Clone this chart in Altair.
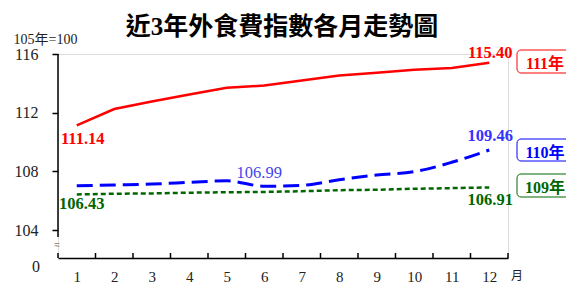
import altair as alt
import pandas as pd

months = list(range(1, 13))
y109 = [106.43, 106.48, 106.50, 106.55, 106.58, 106.60, 106.65, 106.72, 106.75, 106.82, 106.86, 106.91]
y110 = [107.02, 107.08, 107.14, 107.25, 107.36, 106.99, 107.05, 107.43, 107.76, 107.98, 108.62, 109.46]
y111 = [111.14, 112.25, 112.77, 113.24, 113.70, 113.85, 114.19, 114.53, 114.73, 114.92, 115.05, 115.40]
series = ["109年", "110年", "111年"]
colors = ["#006600", "#0000ff", "#ff0000"]
y_ticks = [104, 108, 112, 116]

FONT = "Liberation Serif, Times New Roman, Noto Sans CJK TC, serif"
W, H = 450, 204
YMIN, YMAX = 102.1, 116

xs = alt.Scale(domain=[0.5, 12.5], nice=False, zero=False)
ys = alt.Scale(domain=[YMIN, YMAX], nice=False, zero=False)

df = pd.DataFrame({
    "month": months * 3,
    "value": y109 + y110 + y111,
    "series": [series[0]] * 12 + [series[1]] * 12 + [series[2]] * 12,
})

X = alt.X("month:Q", scale=xs, axis=alt.Axis(
    values=months, ticks=False, grid=False, title=None, labelFont=FONT,
    labelFontSize=15, labelColor="#222", labelPadding=11, labelFlush=False,
    domainColor="#000", domainWidth=1.5, labelAngle=0))
Y = alt.Y("value:Q", scale=ys, axis=alt.Axis(
    values=y_ticks, domain=False, grid=False, tickSize=6, tickWidth=1.5,
    tickColor="#000", labelFont=FONT, labelFontSize=16, labelColor="#222",
    labelPadding=14, title="105年=100", titleAngle=0, titleX=-45, titleY=-15,
    titleAlign="left", titleBaseline="middle", titleFont=FONT,
    titleFontSize=14, titleFontWeight="normal", titleColor="#222"))

base = alt.Chart(df)
line_styles = {
    series[0]: dict(strokeDash=[5, 3], strokeWidth=2.5, interpolate="linear"),
    series[1]: dict(strokeDash=[16, 7], strokeWidth=3, interpolate="monotone"),
    series[2]: dict(strokeWidth=2.5, interpolate="linear"),
}
layers = []
for s, c in zip(series, colors):
    layers.append(base.transform_filter(alt.datum.series == s).mark_line(
        color=c, **line_styles[s]).encode(x=X, y=Y))

# y axis line with break
axis_df = pd.DataFrame({"a": [0]})
ax = alt.Chart(axis_df)
layers.append(ax.mark_rule(color="#000", strokeWidth=1.5).encode(
    x=alt.value(0), y=alt.value(0), y2=alt.value(183)))
layers.append(ax.mark_rule(color="#000", strokeWidth=1.5).encode(
    x=alt.value(0), y=alt.value(199), y2=alt.value(H)))
layers.append(ax.mark_text(text="≈", fontSize=10, color="#777").encode(
    x=alt.value(-1), y=alt.value(191)))
layers.append(ax.mark_text(text="0", font=FONT, fontSize=16, color="#222",
                           align="right", baseline="middle").encode(
    x=alt.value(-18), y=alt.value(213)))
layers.append(ax.mark_text(text="月", font=FONT, fontSize=12, color="#222",
                           baseline="middle").encode(
    x=alt.value(459), y=alt.value(222)))
layers.append(ax.mark_text(text="近3年外食費指數各月走勢圖", font=FONT, fontSize=25,
                           fontWeight="bold", color="#000", baseline="middle").encode(
    x=alt.value(224), y=alt.value(-27)))

# x ticks pointing up at month boundaries
tick_df = pd.DataFrame({"b": [m + 0.5 for m in months]})
layers.append(alt.Chart(tick_df).mark_rule(color="#000", strokeWidth=1.5).encode(
    x=alt.X("b:Q", scale=xs), y=alt.value(H), y2=alt.value(H - 5)))

# value labels
labels = [
    (series[2], 1, "111.14", "#ff0000", "bold", 6, 14),
    (series[2], 12, "115.40", "#ff0000", "bold", 1, -10),
    (series[1], 12, "109.46", "#3333ff", "bold", 1, -14),
    (series[1], 6, "106.99", "#4444ee", "normal", -5, -13),
    (series[0], 1, "106.43", "#006600", "bold", 5, 10),
    (series[0], 12, "106.91", "#006600", "bold", 1, 13),
]
for s, m, t, c, fw, dx, dy in labels:
    layers.append(base.transform_filter(
        (alt.datum.series == s) & (alt.datum.month == m)).mark_text(
        text=t, font=FONT, fontSize=16.5, fontWeight=fw, color=c,
        dx=dx, dy=dy, baseline="middle").encode(x=X, y=Y))

# legend boxes
box_y = {series[2]: (-4, 19), series[1]: (85, 107), series[0]: (120, 143)}
for s, c in zip(series, colors):
    y0, y1 = box_y[s]
    layers.append(ax.mark_rect(fill="#ffffff", stroke=c, strokeWidth=1,
                               cornerRadius=4).encode(
        x=alt.value(459), x2=alt.value(514), y=alt.value(y0), y2=alt.value(y1)))
    layers.append(ax.mark_text(text=s, font=FONT, fontSize=16, fontWeight="bold",
                               color=c, baseline="middle").encode(
        x=alt.value(487), y=alt.value((y0 + y1) / 2 + 2.5)))

chart = alt.layer(*layers).properties(
    width=W, height=H,
    autosize=alt.AutoSizeParams(type="none"),
    padding={"left": 50, "top": 46, "right": 58, "bottom": 26},
).configure_view(stroke=None).configure(background="#ffffff")

chart.save("out.html", embed_options={"renderer": "svg", "actions": False})
